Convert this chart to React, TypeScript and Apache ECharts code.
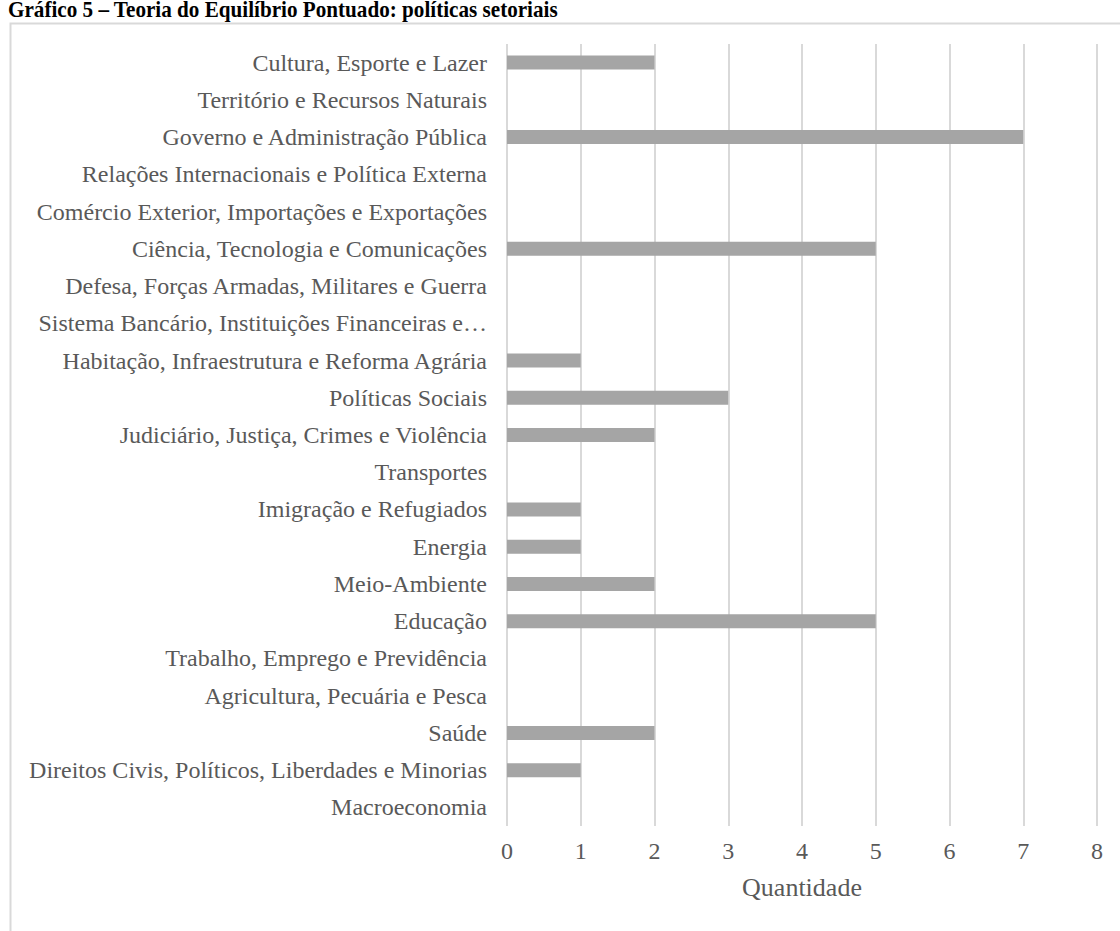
import React, { useEffect, useRef } from "react";
import * as echarts from "echarts";

// Policy sectors, listed from top to bottom as they appear on the axis
const categories = [
  "Cultura, Esporte e Lazer",
  "Território e Recursos Naturais",
  "Governo e Administração Pública",
  "Relações Internacionais e Política Externa",
  "Comércio Exterior, Importações e Exportações",
  "Ciência, Tecnologia e Comunicações",
  "Defesa, Forças Armadas, Militares e Guerra",
  "Sistema Bancário, Instituições Financeiras e…",
  "Habitação, Infraestrutura e Reforma Agrária",
  "Políticas Sociais",
  "Judiciário, Justiça, Crimes e Violência",
  "Transportes",
  "Imigração e Refugiados",
  "Energia",
  "Meio-Ambiente",
  "Educação",
  "Trabalho, Emprego e Previdência",
  "Agricultura, Pecuária e Pesca",
  "Saúde",
  "Direitos Civis, Políticos, Liberdades e Minorias",
  "Macroeconomia",
];

// Number of occurrences per sector
const quantities = [2, 0, 7, 0, 0, 5, 0, 0, 1, 3, 2, 0, 1, 1, 2, 5, 0, 0, 2, 1, 0];

const titleText = "Gráfico 5 – Teoria do Equilíbrio Pontuado: políticas setoriais";
const axisName = "Quantidade";

const serif = '"Liberation Serif", "Times New Roman", serif';

export default function App() {
  const ref = useRef<HTMLDivElement>(null);

  useEffect(() => {
    if (!ref.current) return;
    const chart = echarts.init(ref.current, undefined, { renderer: "svg" });
    chart.setOption({
      animation: false,
      backgroundColor: "#ffffff",
      grid: { left: 507, right: 23, top: 44, bottom: 105, containLabel: false },
      xAxis: {
        type: "value",
        min: 0,
        max: 8,
        interval: 1,
        name: axisName,
        nameLocation: "middle",
        nameGap: 48,
        nameTextStyle: { fontFamily: serif, fontSize: 26, color: "#595959" },
        axisLine: { show: false },
        axisTick: { show: false },
        axisLabel: { fontFamily: serif, fontSize: 24, color: "#595959", margin: 13 },
        splitLine: { show: true, lineStyle: { color: "#d9d9d9", width: 2 } },
      },
      yAxis: {
        type: "category",
        data: categories,
        inverse: true,
        axisLine: { show: false },
        axisTick: { show: false },
        axisLabel: { fontFamily: serif, fontSize: 24, color: "#595959", margin: 20, interval: 0 },
        splitLine: { show: false },
      },
      series: [
        {
          type: "bar",
          data: quantities,
          barWidth: 14,
          itemStyle: { color: "#a5a5a5" },
        },
      ],
      graphic: [
        {
          type: "rect",
          shape: { x: 10.5, y: 23.5, width: 1200, height: 1000 },
          style: { fill: "none", stroke: "#d9d9d9", lineWidth: 2 },
          silent: true,
        },
        {
          type: "text",
          x: 8,
          y: 21,
          scaleX: 0.92,
          style: {
            text: titleText,
            fontFamily: serif,
            fontSize: 23,
            fontWeight: "bold",
            fill: "#000000",
            verticalAlign: "bottom",
          },
        },
      ],
    });
    return () => chart.dispose();
  }, []);

  return (
    <div
      ref={ref}
      style={{ position: "fixed", left: 0, top: 0, width: 1120, height: 931 }}
    />
  );
}
